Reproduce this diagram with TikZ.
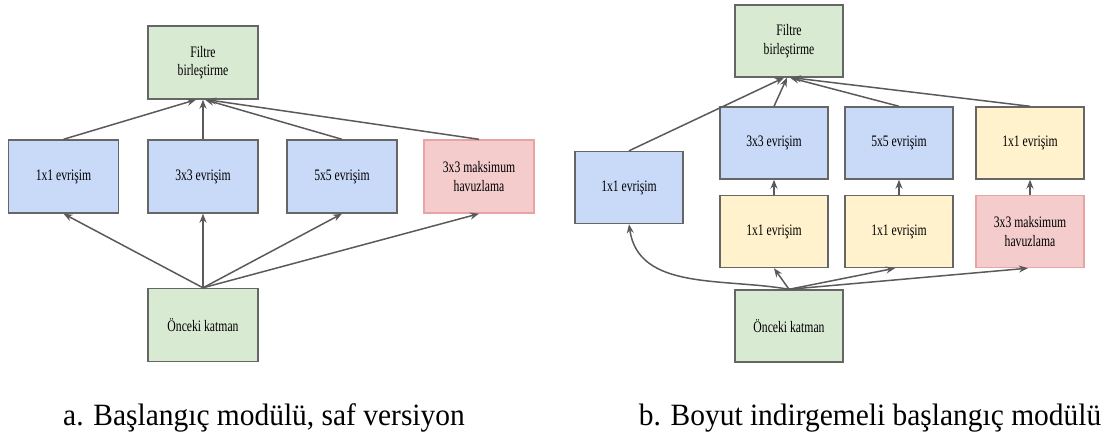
\documentclass[tikz,border=0pt]{standalone}
\usepackage{fontspec}
\setmainfont{Liberation Serif}
\newfontfamily\boxfont[FakeStretch=0.73]{Liberation Serif}
\newfontfamily\capfont[FakeStretch=0.95]{Liberation Serif}
\usetikzlibrary{arrows.meta}
\definecolor{cblue}{HTML}{C9DAF8}
\definecolor{cgreen}{HTML}{D9EAD3}
\definecolor{cred}{HTML}{F4CCCC}
\definecolor{cyellow}{HTML}{FFF2CC}
\definecolor{bordergray}{HTML}{666666}
\definecolor{borderpink}{HTML}{E8A3A3}
\definecolor{arrowgray}{HTML}{5A5A5A}
\tikzset{
  boxA/.style={draw=bordergray, line width=1.4pt, minimum width=110pt, minimum height=73pt,
    inner sep=0pt, align=center, font=\boxfont\fontsize{16}{18.5}\selectfont},
  boxB/.style={boxA, minimum width=108pt, minimum height=72pt},
  bluebox/.style={fill=cblue},
  greenbox/.style={fill=cgreen},
  yellowbox/.style={fill=cyellow},
  redbox/.style={fill=cred, draw=borderpink},
  arr/.style={-{Stealth[length=9pt,width=7pt]}, draw=arrowgray, line width=1.5pt},
  captxt/.style={anchor=base, inner sep=0pt, font=\capfont\fontsize{31}{36}\selectfont}
}
\begin{document}
\begin{tikzpicture}[x=1pt,y=1pt]
\useasboundingbox (0,0) rectangle (1106,-441);
% ---------- left diagram ----------
\node[boxA,greenbox] (fa) at (203,-62.5) {Filtre\\birleştirme};
\node[boxA,bluebox] (a1) at (63.5,-176.5) {1x1 evrişim};
\node[boxA,bluebox] (a3) at (203,-176.5) {3x3 evrişim};
\node[boxA,bluebox] (a5) at (342,-176.5) {5x5 evrişim};
\node[boxA,redbox] (ap) at (479,-176.5) {3x3 maksimum\\havuzlama};
\node[boxA,greenbox] (oa) at (203,-325) {Önceki katman};
\draw[arr] (oa.north) -- (a1.south);
\draw[arr] (oa.north) -- (a3.south);
\draw[arr] (oa.north) -- (a5.south);
\draw[arr] (oa.north) -- (ap.south);
\draw[arr] (a1.north) -- ([xshift=-7pt]fa.south);
\draw[arr] (a3.north) -- (fa.south);
\draw[arr] (a5.north) -- ([xshift=2pt]fa.south);
\draw[arr] (ap.north) -- ([xshift=4pt]fa.south);
% ---------- right diagram ----------
\node[boxB,greenbox] (fb) at (789,-41) {Filtre\\birleştirme};
\node[boxB,bluebox] (b1) at (629,-187.5) {1x1 evrişim};
\node[boxB,bluebox] (b3) at (774,-143) {3x3 evrişim};
\node[boxB,bluebox] (b5) at (899,-143) {5x5 evrişim};
\node[boxB,yellowbox] (b1r) at (1030,-143) {1x1 evrişim};
\node[boxB,yellowbox] (y3) at (774,-231.5) {1x1 evrişim};
\node[boxB,yellowbox] (y5) at (899,-231.5) {1x1 evrişim};
\node[boxB,redbox] (bp) at (1030,-231.5) {3x3 maksimum\\havuzlama};
\node[boxB,greenbox] (ob) at (789,-326) {Önceki katman};
\draw[arr] (ob.north) to[out=170,in=-82] (b1.south);
\draw[arr] (ob.north) -- (y3.south);
\draw[arr] (ob.north) -- ([xshift=-4pt]y5.south);
\draw[arr] (ob.north) -- ([xshift=-2pt]bp.south);
\draw[arr] (y3.north) -- (b3.south);
\draw[arr] (y5.north) -- (b5.south);
\draw[arr] (bp.north) -- (b1r.south);
\draw[arr] (b1.north) -- ([xshift=-5pt]fb.south);
\draw[arr] (b3.north) -- ([xshift=-2pt]fb.south);
\draw[arr] (b5.north) -- ([xshift=1pt]fb.south);
\draw[arr] (b1r.north) -- ([xshift=3pt]fb.south);
% ---------- captions ----------
\node[captxt] (capa) at (264,-425) {a. Başlangıç modülü, saf versiyon};
\node[captxt] (capb) at (870,-425) {b. Boyut indirgemeli başlangıç modülü};
\end{tikzpicture}
\end{document}
